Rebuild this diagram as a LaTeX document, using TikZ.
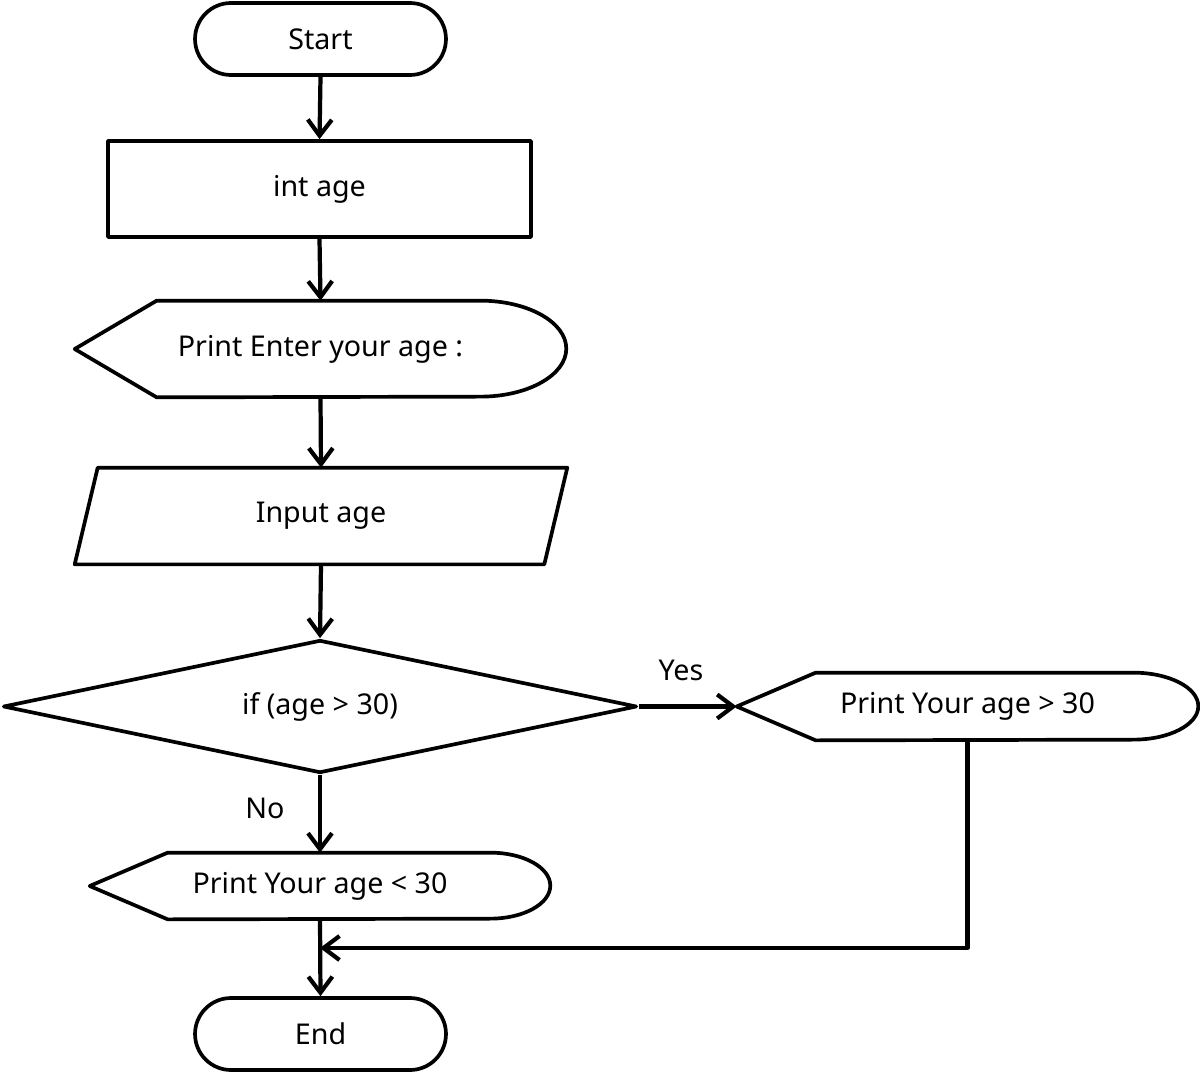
\documentclass[tikz,border=0pt]{standalone}
\usepackage{fontspec}
\setmainfont{Noto Sans}
\usetikzlibrary{arrows.meta,shapes.misc,shapes.geometric,calc}
\begin{document}
\begin{tikzpicture}[x=0.02cm,y=0.02cm,
  every node/.style={font=\fontsize{16.3pt}{19pt}\selectfont},
  lw/.style={line width=2.1pt, line join=round},
  term/.style={lw, draw, rounded rectangle, minimum width=5.02cm, minimum height=1.44cm, inner sep=0pt},
  procbox/.style={lw, draw, rectangle, minimum width=8.46cm, minimum height=1.92cm, inner sep=0pt},
  ghost/.style={draw=none, inner sep=0pt},
  decis/.style={lw, draw, diamond, aspect=4.77, minimum width=12.68cm, minimum height=2.66cm, inner sep=0pt},
  arr/.style={line width=2.4pt, line join=round, -{Straight Barb[length=0.32cm, width=0.48cm, line width=2.4pt]}},
  lbl/.style={inner sep=0pt}
]
\useasboundingbox (0,0) rectangle (1200,-1085);

% nodes
\node[term] (start) at (320.5,-39) {Start};
\node[procbox] (decl) at (319.5,-189) {int age};
\node[ghost, minimum width=9.82cm, minimum height=1.92cm] (p1) at (320.5,-349) {Print Enter your age :};
\node[ghost, minimum width=9.84cm, minimum height=1.92cm] (inp) at (321,-516) {Input age};
\node[decis] (dec) at (320,-706.5) {if (age > 30)};
\node[ghost, minimum width=9.22cm, minimum height=1.34cm] (p2) at (967.5,-706.5) {Print Your age > 30};
\node[ghost, minimum width=9.2cm, minimum height=1.32cm] (p3) at (320,-886) {Print Your age < 30};
\node[term] (fin) at (320.5,-1034) {End};
\node[lbl] (yes) at (681,-670) {Yes};
\node[lbl] (no) at (265,-808) {No};
\coordinate (m) at (320,-948);

% display shapes
\draw[lw] (p1.west) -- ($(p1.north west)+(82,0)$) -- ($(p1.north east)+(-86,0)$)
  arc[start angle=90, end angle=-90, x radius=1.72cm, y radius=0.96cm]
  -- ($(p1.south west)+(82,0)$) -- cycle;
\draw[lw] (p2.west) -- ($(p2.north west)+(79,0)$) -- ($(p2.north east)+(-65,0)$)
  arc[start angle=90, end angle=-90, x radius=1.3cm, y radius=0.67cm]
  -- ($(p2.south west)+(79,0)$) -- cycle;
\draw[lw] (p3.west) -- ($(p3.north west)+(78,0)$) -- ($(p3.north east)+(-60,0)$)
  arc[start angle=90, end angle=-90, x radius=1.2cm, y radius=0.66cm]
  -- ($(p3.south west)+(78,0)$) -- cycle;
% parallelogram
\draw[lw] (inp.south west) -- ($(inp.north west)+(23,0)$) -- (inp.north east)
  -- ($(inp.south east)+(-23,0)$) -- cycle;

% connectors
\draw[arr] (start.south) -- (decl.north);
\draw[arr] (decl.south) -- (p1.north);
\draw[arr] (p1.south) -- (inp.north);
\draw[arr] (inp.south) -- (dec.north);
\draw[arr] (dec.east) -- (p2.west);
\draw[arr] (dec.south) -- (p3.north);
\draw[arr] (p3.south) -- (fin.north);
\draw[arr] (p2.south) |- (m);
\end{tikzpicture}
\end{document}
